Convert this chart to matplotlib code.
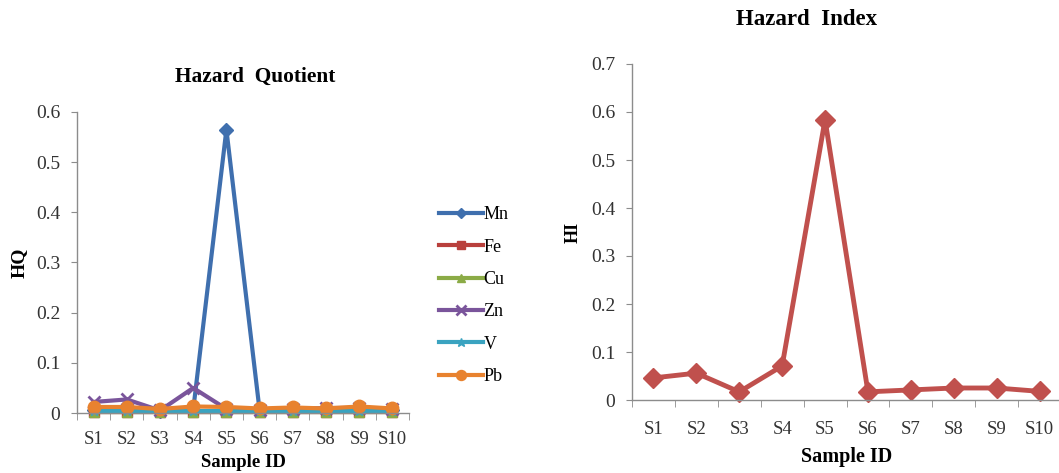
import matplotlib
matplotlib.use("Agg")
import matplotlib.pyplot as plt
import numpy as np

plt.rcParams['font.family'] = ['Liberation Serif', 'DejaVu Serif']

samples = ['S1', 'S2', 'S3', 'S4', 'S5', 'S6', 'S7', 'S8', 'S9', 'S10']

hq_mn = [0.005, 0.005, 0.003, 0.006, 0.565, 0.005, 0.005, 0.005, 0.005, 0.005]
hq_fe = [0.001, 0.001, 0.001, 0.001, 0.001, 0.001, 0.001, 0.001, 0.001, 0.001]
hq_cu = [0.001, 0.001, 0.001, 0.001, 0.001, 0.001, 0.001, 0.001, 0.001, 0.001]
hq_zn = [0.022, 0.027, 0.005, 0.050, 0.008, 0.005, 0.008, 0.010, 0.010, 0.007]
hq_v = [0.003, 0.003, 0.003, 0.003, 0.003, 0.003, 0.003, 0.003, 0.003, 0.003]
hq_pb = [0.012, 0.012, 0.008, 0.013, 0.012, 0.009, 0.011, 0.009, 0.013, 0.009]

hi = [0.046, 0.056, 0.017, 0.071, 0.584, 0.017, 0.021, 0.025, 0.025, 0.018]

series = [
    ('Mn', hq_mn, '#3f6fae', 'D', 7),
    ('Fe', hq_fe, '#b9403c', 's', 7),
    ('Cu', hq_cu, '#8bab46', '^', 7),
    ('Zn', hq_zn, '#7a559b', 'x', 9),
    ('V', hq_v, '#3aa3c0', '*', 8),
    ('Pb', hq_pb, '#e8822f', 'o', 9),
]

axis_grey = '#8c8c8c'


def style_axes(ax, ymax, ystep, xpad, xlabel_size, xlabel_pad):
    x = np.arange(len(samples))
    yt = np.arange(0, ymax + 1e-9, ystep)
    ax.set_xlim(-0.5, len(samples) - 0.5)
    ax.set_ylim(0, ymax)
    ax.set_yticks(yt)
    ax.set_yticklabels(['0' if v == 0 else f'{v:.1f}' for v in yt])
    ax.set_xticks(x)
    ax.set_xticklabels(samples)
    ax.set_xticks(np.arange(-0.5, len(samples)), minor=True)
    ax.tick_params(axis='x', which='major', length=0, pad=xpad, labelsize=13.5,
                   labelcolor='#333333')
    ax.tick_params(axis='x', which='minor', length=5, color=axis_grey, direction='out')
    ax.tick_params(axis='y', length=4, color=axis_grey, labelsize=14, pad=8,
                   labelcolor='#333333')
    for side in ['top', 'right']:
        ax.spines[side].set_visible(False)
    for side in ['left', 'bottom']:
        ax.spines[side].set_color(axis_grey)
        ax.spines[side].set_linewidth(1.0)
    ax.set_xlabel('Sample ID', fontweight='bold', fontsize=xlabel_size, labelpad=xlabel_pad)


fig = plt.figure(figsize=(10.59, 4.73), dpi=100)

ax1 = fig.add_axes([77 / 1059, (473 - 413) / 473, 332 / 1059, 301 / 473])
x = np.arange(len(samples))
for name, vals, color, marker, ms in series:
    ax1.plot(x, vals, color=color, lw=3, marker=marker, markersize=ms,
             markeredgewidth=2 if marker == 'x' else 1, label=name, clip_on=False)
style_axes(ax1, 0.6, 0.1, 13, 13.5, 4)
ax1.set_ylabel('HQ', fontweight='bold', fontsize=14, labelpad=6)
ax1.set_title('Hazard  Quotient', fontweight='bold', fontsize=15.4, pad=22, x=0.536)

leg = ax1.legend(loc='center left', bbox_to_anchor=(1.04, 0.39), frameon=False,
                 fontsize=13, handlelength=2.45, handletextpad=0.05,
                 labelspacing=0.85, markerscale=0.8)

ax2 = fig.add_axes([632 / 1059, (473 - 400) / 473, 429 / 1059, 336 / 473])
ax2.plot(x, hi, color='#c0504d', lw=3.5, marker='D', markersize=10.5, clip_on=False)
style_axes(ax2, 0.7, 0.1, 15, 14.5, 6.5)
ax2.set_ylabel('HI', fontweight='bold', fontsize=13, labelpad=7)
ax2.set_title('Hazard  Index', fontweight='bold', fontsize=16.5, pad=28, x=0.406)

fig.savefig('out.png', dpi=100)
